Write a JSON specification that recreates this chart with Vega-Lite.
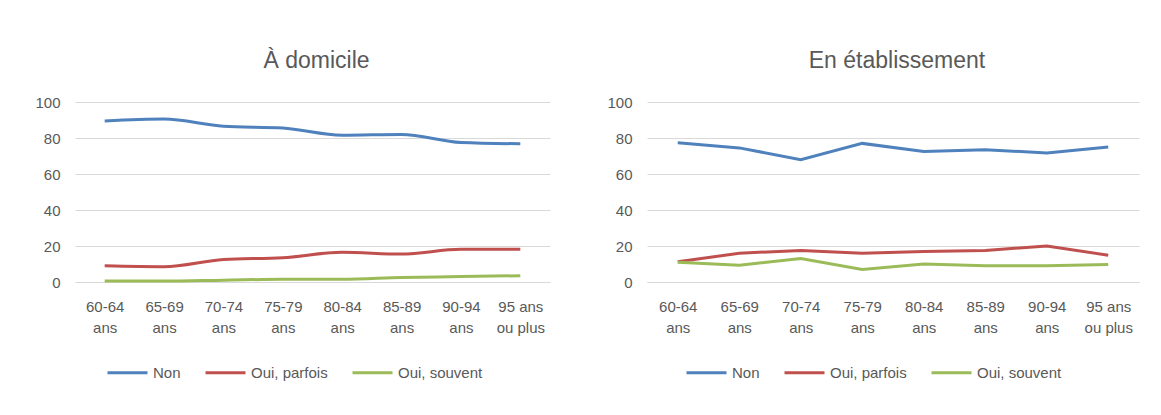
{
  "$schema": "https://vega.github.io/schema/vega-lite/v6.json",
  "background": "white",
  "padding": {"left": 34, "top": 50, "right": 10, "bottom": 10},
  "autosize": {"type": "pad"},
  "spacing": 56,
  "datasets": {
    "d": [
      {"panel": "dom", "age": "60-64 ans", "rep": "Non", "v": 89.5},
      {"panel": "dom", "age": "65-69 ans", "rep": "Non", "v": 90.5},
      {"panel": "dom", "age": "70-74 ans", "rep": "Non", "v": 86.5},
      {"panel": "dom", "age": "75-79 ans", "rep": "Non", "v": 85.5},
      {"panel": "dom", "age": "80-84 ans", "rep": "Non", "v": 81.5},
      {"panel": "dom", "age": "85-89 ans", "rep": "Non", "v": 82},
      {"panel": "dom", "age": "90-94 ans", "rep": "Non", "v": 77.5},
      {"panel": "dom", "age": "95 ans ou plus", "rep": "Non", "v": 76.8},
      {"panel": "dom", "age": "60-64 ans", "rep": "Oui, parfois", "v": 9},
      {"panel": "dom", "age": "65-69 ans", "rep": "Oui, parfois", "v": 8.5},
      {"panel": "dom", "age": "70-74 ans", "rep": "Oui, parfois", "v": 12.5},
      {"panel": "dom", "age": "75-79 ans", "rep": "Oui, parfois", "v": 13.5},
      {"panel": "dom", "age": "80-84 ans", "rep": "Oui, parfois", "v": 16.5},
      {"panel": "dom", "age": "85-89 ans", "rep": "Oui, parfois", "v": 15.5},
      {"panel": "dom", "age": "90-94 ans", "rep": "Oui, parfois", "v": 18.2},
      {"panel": "dom", "age": "95 ans ou plus", "rep": "Oui, parfois", "v": 18.2},
      {"panel": "dom", "age": "60-64 ans", "rep": "Oui, souvent", "v": 0.5},
      {"panel": "dom", "age": "65-69 ans", "rep": "Oui, souvent", "v": 0.5},
      {"panel": "dom", "age": "70-74 ans", "rep": "Oui, souvent", "v": 1},
      {"panel": "dom", "age": "75-79 ans", "rep": "Oui, souvent", "v": 1.5},
      {"panel": "dom", "age": "80-84 ans", "rep": "Oui, souvent", "v": 1.5},
      {"panel": "dom", "age": "85-89 ans", "rep": "Oui, souvent", "v": 2.5},
      {"panel": "dom", "age": "90-94 ans", "rep": "Oui, souvent", "v": 3},
      {"panel": "dom", "age": "95 ans ou plus", "rep": "Oui, souvent", "v": 3.5},
      {"panel": "eta", "age": "60-64 ans", "rep": "Non", "v": 77.3},
      {"panel": "eta", "age": "65-69 ans", "rep": "Non", "v": 74.5},
      {"panel": "eta", "age": "70-74 ans", "rep": "Non", "v": 68},
      {"panel": "eta", "age": "75-79 ans", "rep": "Non", "v": 77},
      {"panel": "eta", "age": "80-84 ans", "rep": "Non", "v": 72.5},
      {"panel": "eta", "age": "85-89 ans", "rep": "Non", "v": 73.5},
      {"panel": "eta", "age": "90-94 ans", "rep": "Non", "v": 71.7},
      {"panel": "eta", "age": "95 ans ou plus", "rep": "Non", "v": 75},
      {"panel": "eta", "age": "60-64 ans", "rep": "Oui, parfois", "v": 11.2},
      {"panel": "eta", "age": "65-69 ans", "rep": "Oui, parfois", "v": 16},
      {"panel": "eta", "age": "70-74 ans", "rep": "Oui, parfois", "v": 17.5},
      {"panel": "eta", "age": "75-79 ans", "rep": "Oui, parfois", "v": 16},
      {"panel": "eta", "age": "80-84 ans", "rep": "Oui, parfois", "v": 17},
      {"panel": "eta", "age": "85-89 ans", "rep": "Oui, parfois", "v": 17.5},
      {"panel": "eta", "age": "90-94 ans", "rep": "Oui, parfois", "v": 20},
      {"panel": "eta", "age": "95 ans ou plus", "rep": "Oui, parfois", "v": 14.9},
      {"panel": "eta", "age": "60-64 ans", "rep": "Oui, souvent", "v": 11},
      {"panel": "eta", "age": "65-69 ans", "rep": "Oui, souvent", "v": 9.3},
      {"panel": "eta", "age": "70-74 ans", "rep": "Oui, souvent", "v": 13},
      {"panel": "eta", "age": "75-79 ans", "rep": "Oui, souvent", "v": 7},
      {"panel": "eta", "age": "80-84 ans", "rep": "Oui, souvent", "v": 10},
      {"panel": "eta", "age": "85-89 ans", "rep": "Oui, souvent", "v": 9},
      {"panel": "eta", "age": "90-94 ans", "rep": "Oui, souvent", "v": 9},
      {"panel": "eta", "age": "95 ans ou plus", "rep": "Oui, souvent", "v": 9.7}
    ]
  },
  "config": {
    "font": "Liberation Sans",
    "view": {"stroke": null},
    "title": {"fontSize": 23, "fontWeight": "normal", "color": "#595959", "offset": 22, "dx": 4},
    "axis": {"labelFont": "Liberation Sans", "labelColor": "#595959", "labelFontSize": 15, "ticks": false, "gridColor": "#D9D9D9", "gridWidth": 1, "domainColor": "#D9D9D9", "title": null},
    "legend": {"labelFont": "Liberation Sans", "labelColor": "#595959", "labelFontSize": 15, "symbolType": "stroke", "symbolSize": 1600, "symbolStrokeWidth": 3, "columnPadding": 18, "labelOffset": 4, "padding": 0, "direction": "horizontal", "orient": "none", "title": null}
  },
  "hconcat": [
    {
      "title": "À domicile",
      "width": 475,
      "height": 180,
      "data": {"name": "d"},
      "transform": [{"filter": "datum.panel == 'dom'"}],
      "mark": {"type": "line", "strokeWidth": 3, "interpolate": "monotone"},
      "encoding": {
        "x": {"field": "age", "type": "ordinal", "sort": null, "scale": {"type": "point", "padding": 0.5},
              "axis": {"labelAngle": 0, "grid": false, "labelPadding": 17, "labelLineHeight": 21, "labelOverlap": false, "labelBound": false, "labelFlush": false,
                       "labelExpr": "datum.label == '95 ans ou plus' ? ['95 ans', 'ou plus'] : split(datum.label, ' ')"}},
        "y": {"field": "v", "type": "quantitative", "scale": {"domain": [0, 100], "nice": false},
              "axis": {"values": [0, 20, 40, 60, 80, 100], "domain": false, "labelPadding": 15}},
        "color": {"field": "rep", "type": "nominal",
                  "scale": {"domain": ["Non", "Oui, parfois", "Oui, souvent"], "range": ["#4F81BD", "#C0504D", "#9BBB59"]},
                  "legend": {"legendX": 31, "legendY": 249}}
      }
    },
    {
      "title": "En établissement",
      "width": 492,
      "height": 180,
      "data": {"name": "d"},
      "transform": [{"filter": "datum.panel == 'eta'"}],
      "mark": {"type": "line", "strokeWidth": 3},
      "encoding": {
        "x": {"field": "age", "type": "ordinal", "sort": null, "scale": {"type": "point", "padding": 0.5},
              "axis": {"labelAngle": 0, "grid": false, "labelPadding": 17, "labelLineHeight": 21, "labelOverlap": false, "labelBound": false, "labelFlush": false,
                       "labelExpr": "datum.label == '95 ans ou plus' ? ['95 ans', 'ou plus'] : split(datum.label, ' ')"}},
        "y": {"field": "v", "type": "quantitative", "scale": {"domain": [0, 100], "nice": false},
              "axis": {"values": [0, 20, 40, 60, 80, 100], "domain": false, "labelPadding": 15}},
        "color": {"field": "rep", "type": "nominal",
                  "scale": {"domain": ["Non", "Oui, parfois", "Oui, souvent"], "range": ["#4F81BD", "#C0504D", "#9BBB59"]},
                  "legend": {"legendX": 38, "legendY": 249}}
      }
    }
  ],
  "resolve": {"scale": {"color": "independent", "x": "independent", "y": "independent"}, "legend": {"color": "independent"}}
}
